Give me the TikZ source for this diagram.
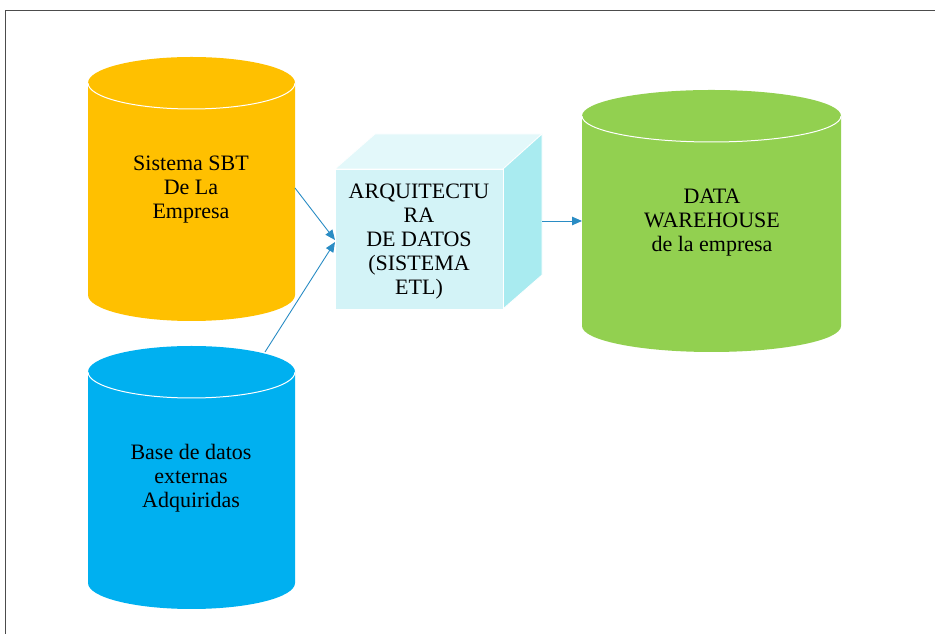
\documentclass[tikz,border=0pt]{standalone}
\usepackage{fontspec}
\setmainfont{Liberation Serif}
\newfontfamily\labelserif{Liberation Serif}
\usetikzlibrary{arrows.meta}
\definecolor{sbtyellow}{HTML}{FFC000}
\definecolor{extblue}{HTML}{00B0F0}
\definecolor{dwgreen}{HTML}{92D050}
\definecolor{cubefront}{HTML}{D3F3F7}
\definecolor{cubetop}{HTML}{E3F8FA}
\definecolor{cuberight}{HTML}{A9EBF0}
\definecolor{flowblue}{HTML}{2A8CC4}
\tikzset{
  label text/.style={align=center, text=black, font=\labelserif\fontsize{22}{24}\selectfont, inner sep=0pt},
  flow/.style={draw=flowblue, line width=0.9pt, -{Triangle[length=10pt,width=8.5pt]}},
  rimline/.style={draw=white, line width=1pt},
}
% database cylinder: #1 colour, #2 centre x, #3 top-ellipse centre y, #4 bottom-ellipse centre y, #5 x radius, #6 y radius
\newcommand{\dbcylinder}[6]{%
  \fill[#1] (#2-#5,#3) -- (#2-#5,#4)
    arc[start angle=180,end angle=360,x radius=#5,y radius=#6] -- (#2+#5,#3)
    arc[start angle=0,end angle=180,x radius=#5,y radius=#6] -- cycle;
  \draw[rimline] (#2-#5,#3) arc[start angle=180,end angle=360,x radius=#5,y radius=#6];
}
\begin{document}
\begin{tikzpicture}[x=1pt,y=1pt]
\useasboundingbox (0,0) rectangle (935,634);
% frame
\draw[gray!60!black, line width=1pt] (5.5,0) -- (5.5,623.5) -- (935,623.5);

% source and target databases
\dbcylinder{sbtyellow}{191.5}{551}{339}{103.5}{26}
\dbcylinder{extblue}{191.5}{262}{51}{103.5}{26}
\dbcylinder{dwgreen}{711.5}{518}{308}{129.5}{26}

% ETL cube
\fill[cubetop, draw=white, line width=0.8pt] (335,465) -- (375,500) -- (542,500) -- (503,465) -- cycle;
\fill[cuberight, draw=white, line width=0.8pt] (503,465) -- (542,500) -- (542,359) -- (503,325) -- cycle;
\fill[cubefront, draw=white, line width=0.8pt] (335,325) rectangle (503,465);

% labels
\node[label text] (sbt) at (191,444.5) {Sistema SBT\\De La\\Empresa};
\node[label text] (ext) at (191,155.5) {Base de datos\\externas\\Adquiridas};
\node[label text] (dw) at (712,411.5) {DATA\\WAREHOUSE\\de la empresa};
\node[label text] (etl) at (419,392.5) {ARQUITECTU\\RA\\DE DATOS\\(SISTEMA\\ETL)};

% connector end points
\coordinate (sbtout) at (295,446);
\coordinate (extout) at (265,282);
\coordinate (etlin1) at (335,394);
\coordinate (etlin2) at (335,392);
\coordinate (etlout) at (542,413);
\coordinate (dwin) at (582,413);

\draw[flow] (sbtout) -- (etlin1);
\draw[flow] (extout) -- (etlin2);
\draw[flow] (etlout) -- (dwin);
\end{tikzpicture}
\end{document}
